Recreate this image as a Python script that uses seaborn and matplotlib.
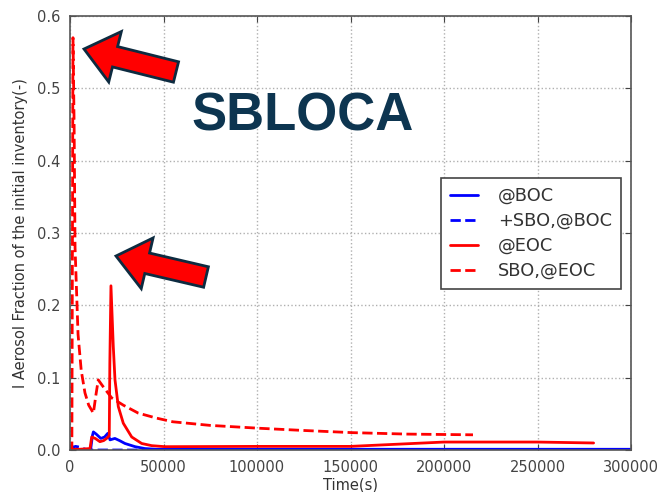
import numpy as np
import pandas as pd
import matplotlib
matplotlib.use("Agg")
import matplotlib.pyplot as plt
import seaborn as sns
from matplotlib.patches import FancyArrow
from matplotlib.transforms import IdentityTransform

# ---- data ----
t_boc = [0, 11000, 12000, 12500, 14000, 16500, 18500, 20200, 21400, 24000, 26500, 29400, 34800, 40000, 46000, 60000, 300000]
v_boc = [0.0, 0.0, 0.02, 0.025, 0.022, 0.016, 0.018, 0.023, 0.014, 0.016, 0.013, 0.009, 0.0046, 0.002, 0.001, 0.001, 0.001]

t_boc_sbo = [0, 1500, 3000, 5000, 7000, 9000, 12000, 20000, 40000, 100000, 215000]
v_boc_sbo = [0.0, 0.004, 0.005, 0.004, 0.002, 0.0005, 0.0, 0.0, 0.0, 0.0, 0.0]

t_eoc = [0, 5000, 10700, 11600, 13500, 16000, 18000, 19600, 21000, 21300, 21900, 23150, 24060, 25830, 28500, 33000, 38340, 43700, 50800, 100000, 150000, 175000, 200000, 250000, 280000]
v_eoc = [0.001, 0.001, 0.002, 0.018, 0.016, 0.0115, 0.013, 0.016, 0.02, 0.12, 0.227, 0.143, 0.097, 0.06, 0.037, 0.018, 0.009, 0.006, 0.0046, 0.005, 0.005, 0.008, 0.011, 0.011, 0.0097]

t_eoc_sbo = [0, 1000, 1600, 2200, 2700, 4300, 6000, 8000, 10000, 12500, 13800, 15100, 17600, 22300, 28500, 36500, 46400, 55000, 75000, 101600, 125000, 151000, 180000, 215500]
v_eoc_sbo = [0.0, 0.0, 0.57, 0.45, 0.28, 0.16, 0.11, 0.079, 0.062, 0.051, 0.075, 0.097, 0.088, 0.072, 0.062, 0.051, 0.044, 0.039, 0.034, 0.030, 0.027, 0.024, 0.022, 0.021]

labels = ["@BOC", "+SBO,@BOC", "@EOC", "SBO,@EOC"]
x_ticks = [0, 50000, 100000, 150000, 200000, 250000, 300000]
y_ticks = [0.0, 0.1, 0.2, 0.3, 0.4, 0.5, 0.6]

# ---- style ----
sns.set_style("ticks")
plt.rcParams["font.family"] = ["DejaVu Sans"]

fig = plt.figure(figsize=(6.59, 4.92), dpi=100)
ax = fig.add_axes([70/659, 42/492, 561/659, 434/492])

series = [
    (t_boc, v_boc, "#0000ff", "-"),
    (t_boc_sbo, v_boc_sbo, "#0000ff", "--"),
    (t_eoc, v_eoc, "#ff0000", "-"),
    (t_eoc_sbo, v_eoc_sbo, "#ff0000", "--"),
]
for (t, v, c, ls), lab in zip(series, labels):
    sns.lineplot(x=t, y=v, ax=ax, color=c, linestyle=ls, linewidth=2, label=lab)

ax.set_xlim(0, 300000)
ax.set_ylim(0, 0.6)
ax.set_xticks(x_ticks)
ax.set_xticklabels([str(x) for x in x_ticks])
ax.set_yticks(y_ticks)
ax.set_yticklabels([f"{y:.1f}" for y in y_ticks])
ax.grid(True, linestyle=":", color="#b0b0b0", linewidth=1)
ax.tick_params(direction="in", length=4, colors="#444444", labelsize=10.5, top=True, right=True)
ax.tick_params(axis="x", pad=7)
ax.tick_params(axis="y", pad=7)
for s in ax.spines.values():
    s.set_color("#555555")
    s.set_linewidth(1.2)
ax.set_xlabel("Time(s)", fontsize=10.5, color="#333333", labelpad=2)
ax.set_ylabel("I Aerosol Fraction of the initial inventory(-)", fontsize=10.5, color="#333333", labelpad=6)

leg = ax.legend(loc="upper left", bbox_to_anchor=(371/561, 1 - (178-16)/434), fontsize=12.8,
                frameon=True, fancybox=False, framealpha=1, edgecolor="#444444",
                handlelength=1.6, borderpad=0.5, labelspacing=0.4, handletextpad=1.1,
                borderaxespad=0)
leg.get_frame().set_linewidth(1.2)
for txt in leg.get_texts():
    txt.set_color("#333333")

# annotation text
fig.text(303/659, 1 - 116/492, "SBLOCA", fontsize=38, fontweight="bold",
         family="Liberation Sans", color="#0d3550", ha="center", va="center")

# arrows (pixel coords, y from bottom)
H = 492
for (x0, y0, x1, y1) in [(176, 72, 84, 49), (206, 277, 116, 256)]:
    arr = FancyArrow(x0, H - y0, x1 - x0, (H - y1) - (H - y0), width=21, head_width=52,
                     head_length=32, length_includes_head=True, fc="#ff0000",
                     ec="#0d2b40", lw=2, transform=IdentityTransform())
    fig.add_artist(arr)

fig.savefig("out.png", dpi=100)
